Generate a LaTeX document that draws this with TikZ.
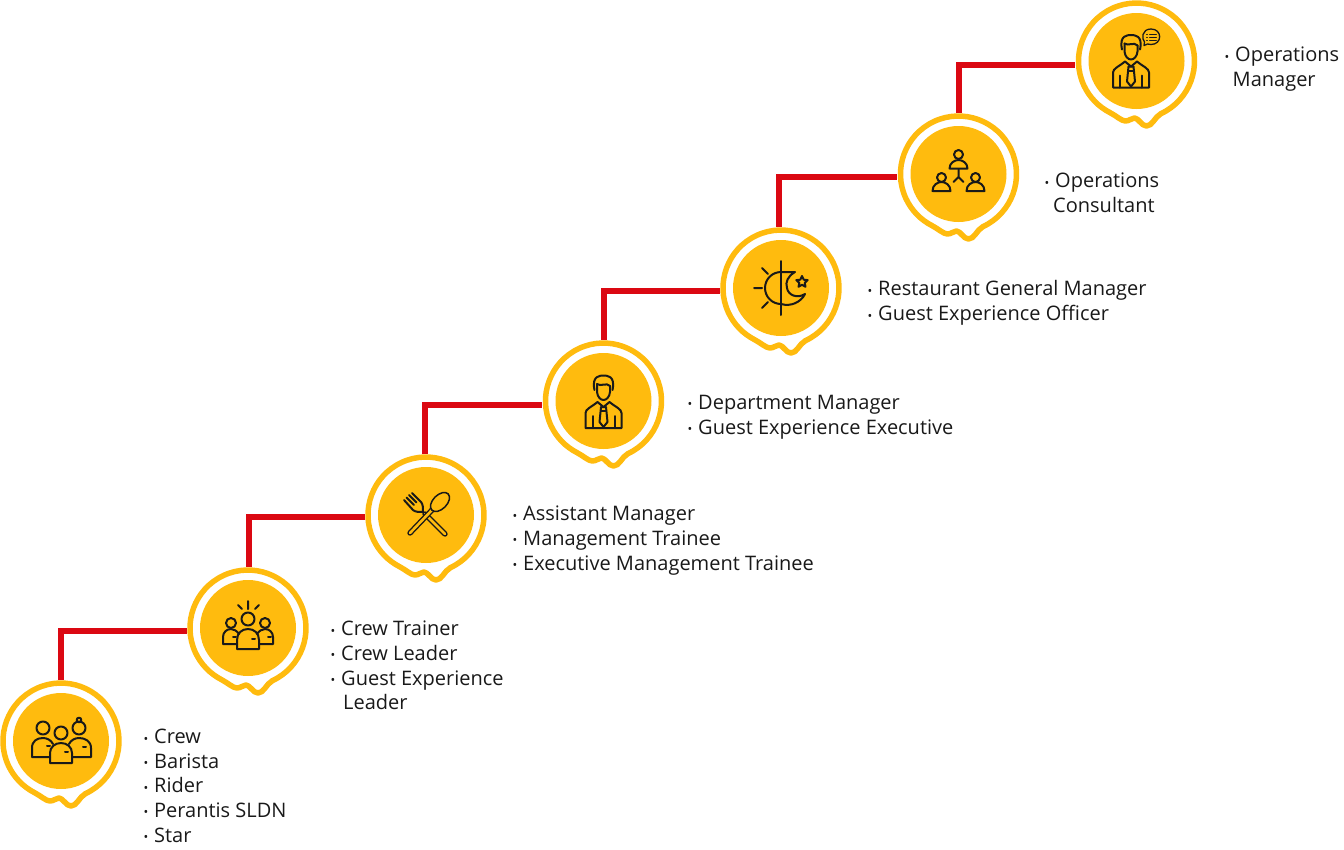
\documentclass[tikz,border=0pt]{standalone}
\usepackage{fontspec}
\setmainfont{Open Sans}
\usepackage{xcolor}
\definecolor{gold}{HTML}{FFBB0E}
\definecolor{stepred}{HTML}{DB0812}
\newcommand{\itm}{\makebox[10.5pt][l]{\raisebox{0.5pt}{\fontsize{12.5}{12.5}\selectfont\textbullet}}}
\tikzset{
    stop/.style={circle, minimum size=122pt, inner sep=0pt},
    rise/.style={stepred, line width=6pt},
    rolelist/.style={anchor=north west, inner sep=0pt, align=left, text=black!90,
        font=\fontsize{20}{24.6}\selectfont},
    icon/.style={line width=2pt, line cap=round, line join=round, black!90},
    badge/.pic={
        \fill[gold] (0,0) circle (48);
        \draw[gold, line width=5.5pt, line join=round] (24.5,-52.6) arc (-65:243:58)
            .. controls (-20,-55) and (-15,-60) .. (-11,-60)
            .. controls (-7,-60) and (-5,-57) .. (-2,-57)
            .. controls (2,-57) and (5,-65) .. (10,-65)
            .. controls (16,-65) and (18,-56) .. cycle;
    },
    crewicon/.pic={
        \draw[icon] (-18,13) circle (6.5) (0,8) circle (6.5) (18,13) circle (6.5) (18,21) circle (2.3);
        \draw[icon] (-11,-16) -- (-29,-16) -- (-29,-7) .. controls (-29,0) and (-24,3) .. (-18,3)
            .. controls (-14,3) and (-10,1) .. (-8,-3);
        \draw[icon] (11,-16) -- (30,-16) -- (30,-7) .. controls (30,0) and (24,3) .. (18,3)
            .. controls (14,3) and (10,1) .. (8,-3);
        \draw[icon] (-11,-22) -- (11,-22) -- (11,-12) .. controls (11,-6) and (6,-2) .. (0,-2)
            .. controls (-6,-2) and (-11,-6) .. (-11,-12) -- cycle;
        \draw[icon] (-14,-5) -- (-11,-5) (4,-11) -- (7,-11) (22,-6) -- (25,-6);
    },
    trainericon/.pic={
        \draw[icon] (0,27) -- (0,19) (-10,23) -- (-6,19) (11,23) -- (7,19);
        \draw[icon] (0,9) circle (6.5) (-17,5) circle (5) (17,5) circle (5);
        \draw[icon] (-11,-21) -- (11,-21) -- (11,-12) .. controls (11,-5) and (6,-1) .. (0,-1)
            .. controls (-6,-1) and (-11,-5) .. (-11,-12) -- cycle;
        \draw[icon] (-11,-16) -- (-25,-16) -- (-25,-9) .. controls (-25,-4) and (-21,-1) .. (-17,-1)
            .. controls (-14,-1) and (-11,-3) .. (-9,-6);
        \draw[icon] (11,-16) -- (25,-16) -- (25,-9) .. controls (25,-4) and (21,-1) .. (17,-1)
            .. controls (14,-1) and (11,-3) .. (9,-6);
        \draw[icon] (-15,-9) -- (-12,-9) (4,-11) -- (7,-11) (20,-9) -- (23,-9);
    },
    cutleryicon/.pic={
        % fork first, the spoon runs over it
        \draw[icon] (-22,15) -- (-13,5) .. controls (-11,3) and (-7,3) .. (-3,3);
        \draw[icon] (-14,22) -- (-5,13) .. controls (-3,11) and (-3,7) .. (-3,3);
        \draw[icon] (-19.5,17.5) -- (-12,10) (-17,20) -- (-9.5,12.5);
        \draw[icon, line width=1.4pt, double=gold, double distance=2.6pt] (-1,1) -- (19,-19);
        \draw[icon, line width=1.4pt, double=gold, double distance=2.6pt] (6,5) -- (-16,-18);
        \draw[icon, line width=1.5pt, fill=gold, rotate around={45:(14,13)}] (14,13) ellipse (11.5 and 7);
    },
    personicon/.pic={
        \draw[icon] (-9,11) .. controls (-12,25) and (-4,25.5) .. (0,25.5)
            .. controls (4,25.5) and (12,25) .. (9,11);
        \draw[icon] (-6.5,17) .. controls (-3,14) and (3,19) .. (6.5,15);
        \draw[icon] (-6.5,17) -- (-6.5,9) .. controls (-6,4) and (-3,1) .. (0,1)
            .. controls (3,1) and (6,4) .. (6.5,9) -- (6.5,15);
        \draw[icon] (-18,-27) -- (18,-27) -- (18,-12) .. controls (18,-8) and (12,-6) .. (6,-1)
            -- (0,-6) -- (-6,-1) .. controls (-12,-6) and (-18,-8) .. (-18,-12) -- cycle;
        \draw[icon] (-11,-15) -- (-11,-27) (11,-15) -- (11,-27);
        \draw[icon] (-2.5,-6) -- (2.5,-6) -- (4,-21) -- (0,-26) -- (-4,-21) -- cycle;
        \draw[icon] (-2.5,-10) -- (2.5,-10);
    },
    sunmoonicon/.pic={
        \draw[icon] (0,27) -- (0,-27);
        \draw[icon] (0,16) arc (90:270:16);
        \draw[icon] (0,16) -- (14,16) .. controls (7,12) and (4,6) .. (6,0)
            .. controls (7,-7) and (16,-11) .. (24,-6)
            .. controls (20,-14) and (10,-19) .. (0,-16);
        \draw[icon] (21,12) -- (22.7,8.3) -- (26.7,7.9) -- (23.7,5.1) -- (24.5,1.2) -- (21,3.2)
            -- (17.5,1.2) -- (18.3,5.1) -- (15.3,7.9) -- (19.3,8.3) -- cycle;
        \draw[icon] (-27,0) -- (-19,0) (-19,20) -- (-13,14) (-19,-20) -- (-13,-14);
    },
    teamicon/.pic={
        \draw[icon] (0,19.5) circle (4.5) (-17,-3.5) circle (4.5) (17,-3.5) circle (4.5);
        \draw[icon] (-9,5.5) -- (9,5.5) .. controls (9,11) and (4,14) .. (0,14)
            .. controls (-4,14) and (-9,11) .. (-9,5.5) -- cycle;
        \draw[icon] (-26,-17) -- (-8,-17) .. controls (-8,-11) and (-13,-8) .. (-17,-8)
            .. controls (-21,-8) and (-26,-11) .. (-26,-17) -- cycle;
        \draw[icon] (8,-17) -- (26,-17) .. controls (26,-11) and (21,-8) .. (17,-8)
            .. controls (13,-8) and (8,-11) .. (8,-17) -- cycle;
        \draw[icon] (0,4.5) -- (0,-3) (-5,-8) -- (0,-3) -- (5,-8);
    },
    speakericon/.pic={
        \pic at (-5.5,0.5) {personicon};
        \draw[icon, line width=1.3pt] (8,19) .. controls (5,22) and (5,32) .. (14.5,32)
            .. controls (26,32) and (26,16.5) .. (14.5,16.5) -- (11,17) -- (7.5,15.5) -- cycle;
        \draw[icon, line width=0.9pt] (10,27) -- (11,27) (13,27) -- (20,27)
            (10,24) -- (11,24) (13,24) -- (20,24) (10,21) -- (11,21) (13,21) -- (20,21);
    },
}

\begin{document}
\begin{tikzpicture}[x=1pt, y=1pt]
    \useasboundingbox (0,0) rectangle (1344,-849);

    \node[stop] (crew) at (61,-741) {};
    \node[stop] (trainer) at (248,-628) {};
    \node[stop] (assistant) at (426,-515) {};
    \node[stop] (department) at (603.5,-401) {};
    \node[stop] (general) at (781,-288) {};
    \node[stop] (consultant) at (958.5,-174) {};
    \node[stop] (operations) at (1136.5,-61) {};

    \draw[rise] (crew.north) |- (trainer.183);
    \draw[rise] (trainer.89) |- (assistant.182);
    \draw[rise] (assistant.91) |- (department.184);
    \draw[rise] (department.north) |- (general.183);
    \draw[rise] (general.92) |- (consultant.183);
    \draw[rise] (consultant.north) |- (operations.184);

    \pic at (crew) {badge};
    \pic at (trainer) {badge};
    \pic at (assistant) {badge};
    \pic at (department) {badge};
    \pic at (general) {badge};
    \pic at (consultant) {badge};
    \pic at (operations) {badge};

    \pic at (crew) {crewicon};
    \pic at (trainer) {trainericon};
    \pic at (assistant) {cutleryicon};
    \pic at (department) {personicon};
    \pic at (general) {sunmoonicon};
    \pic at (consultant) {teamicon};
    \pic at (operations) {speakericon};

    \node[rolelist] (crewroles) at (143.5,-729) {\itm Crew\\\itm Barista\\\itm Rider\\\itm Perantis SLDN\\\itm Star};
    \node[rolelist] (trainerroles) at (330.5,-621) {\itm Crew Trainer\\\itm Crew Leader\\\itm Guest Experience\\\hspace{12.5pt}Leader};
    \node[rolelist] (assistantroles) at (512.5,-506) {\itm Assistant Manager\\\itm Management Trainee\\\itm Executive Management Trainee};
    \node[rolelist] (departmentroles) at (687.5,-395) {\itm Department Manager\\\itm Guest Experience Executive};
    \node[rolelist] (generalroles) at (867.5,-280.5) {\itm Restaurant General Manager\\\itm Guest Experience Officer};
    \node[rolelist] (consultantroles) at (1044.5,-173) {\itm Operations\\\hspace{8.5pt}Consultant};
    \node[rolelist] (operationsroles) at (1224.5,-47) {\itm Operations\\\hspace{8pt}Manager};
\end{tikzpicture}
\end{document}
